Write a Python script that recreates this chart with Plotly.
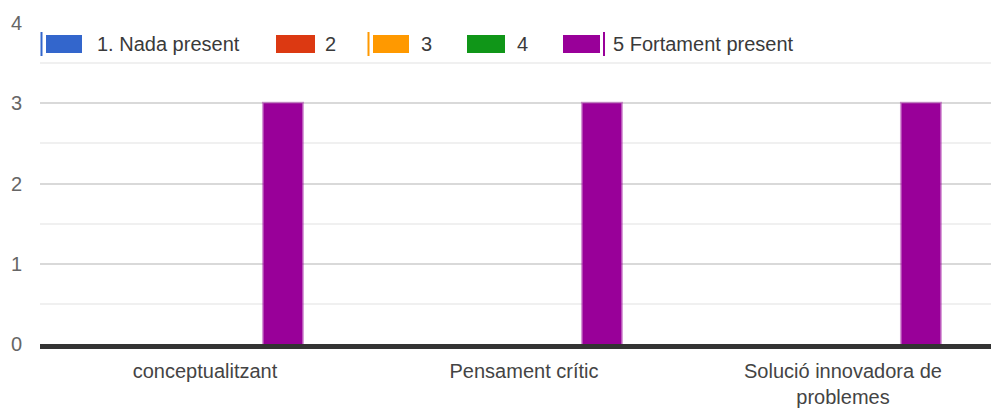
import plotly.graph_objects as go

categories = ["conceptualitzant", "Pensament crític", "Solució innovadora de<br>problemes"]
series_names = ["1. Nada present", "2", "3", "4", "5 Fortament present"]
series_colors = ["#3366cc", "#dc3912", "#ff9900", "#109618", "#990099"]
values_1 = [0, 0, 0]
values_2 = [0, 0, 0]
values_3 = [0, 0, 0]
values_4 = [0, 0, 0]
values_5 = [3, 3, 3]
series_values = [values_1, values_2, values_3, values_4, values_5]
y_ticks = [0, 1, 2, 3, 4]

W, H = 991, 408
ML, MR, MT, MB = 40, 0, 23, 64
PW = W - ML - MR
PH = H - MT - MB

def px(x):
    return (x - ML) / PW

def py(y):
    return (H - MB - y) / PH

FONT = "Liberation Sans, Arial, sans-serif"

fig = go.Figure()
for name, color, vals in zip(series_names, series_colors, series_values):
    has = any(v > 0 for v in vals)
    fig.add_trace(go.Bar(
        x=categories, y=vals, name=name,
        marker=dict(color=color,
                    line=dict(color="rgba(153,0,153,0.4)" if has else color,
                              width=3 if has else 0)),
        showlegend=False, hoverinfo="skip",
    ))

# custom legend (swatch pixel positions)
sw_x = [(46, 82), (276, 315), (373, 409), (467, 505), (563, 600)]
tx_x = [95, 323, 419, 515, 611]
shapes = []
annotations = []
for (x0, x1), tx, name, color in zip(sw_x, tx_x, series_names, series_colors):
    shapes.append(dict(type="rect", xref="paper", yref="paper",
                       x0=px(x0), x1=px(x1), y0=py(53), y1=py(35),
                       fillcolor=color, line=dict(width=0), layer="above"))
    annotations.append(dict(xref="paper", yref="paper", x=px(tx), y=py(44),
                            text=name, showarrow=False, xanchor="left", yanchor="middle",
                            font=dict(family=FONT, size=20, color="#3a3a3a")))
# thin marks beside some legend entries
for xm, color in [(41.5, "#3366cc"), (368.5, "#ff9900"), (604, "#990099")]:
    shapes.append(dict(type="line", xref="paper", yref="paper",
                       x0=px(xm), x1=px(xm), y0=py(56), y1=py(32),
                       line=dict(color=color, width=2), layer="above"))

fig.update_layout(
    width=W, height=H,
    margin=dict(l=ML, r=MR, t=MT, b=MB, pad=0),
    paper_bgcolor="white", plot_bgcolor="white",
    barmode="group", bargap=0.389, bargroupgap=0,
    shapes=shapes, annotations=annotations,
    font=dict(family=FONT, size=20, color="#444444"),
    xaxis=dict(
        range=[-0.5172, 2.464], showgrid=False, zeroline=False,
        showline=True, linecolor="#333333", linewidth=5,
        ticks="", ticklabelstandoff=5,
        tickfont=dict(family=FONT, size=20, color="#444444"),
        fixedrange=True,
    ),
    yaxis=dict(
        range=[0, 4], tickvals=y_ticks, ticktext=[str(v) for v in y_ticks],
        showgrid=True, gridcolor="#d9d9d9", gridwidth=2,
        zeroline=False, showline=False, ticks="",
        ticklabelstandoff=17,
        tickfont=dict(family=FONT, size=20, color="#666666"),
        minor=dict(dtick=0.5, showgrid=True, gridcolor="#f0f0f0", gridwidth=2),
        fixedrange=True,
    ),
)

fig.write_html("out.html", config={"displayModeBar": False})
